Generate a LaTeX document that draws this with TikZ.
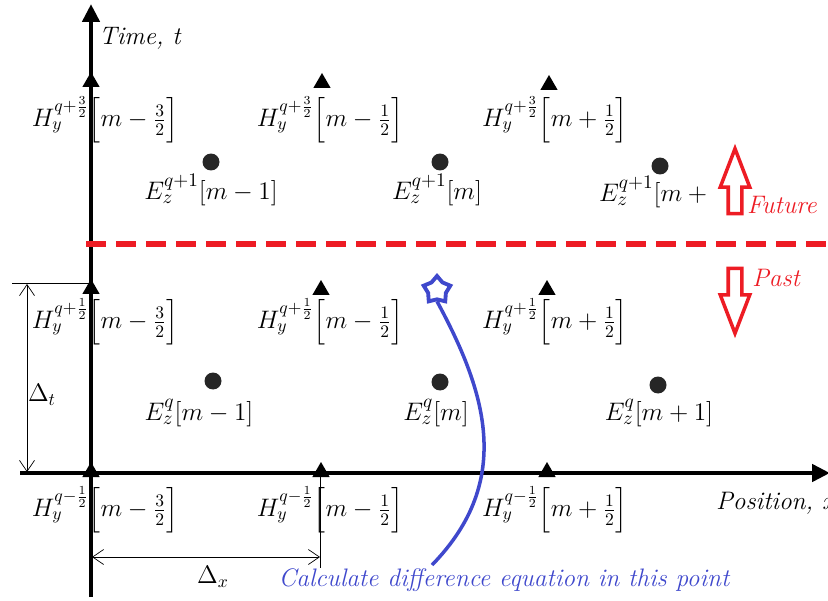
\documentclass[tikz,border=0pt]{standalone}
\usepackage{amsmath,amssymb}
\usepackage{xcolor}
\usetikzlibrary{positioning,arrows.meta,shapes.geometric,shapes.arrows}
\definecolor{PastRed}{RGB}{237,28,36}
\definecolor{CalcBlue}{RGB}{63,72,204}
\newcommand{\Hy}[2]{$H_y^{q#1}\Big[m#2\Big]$}
\newcommand{\Ez}[2]{$E_z^{#1}[m#2]$}
\tikzset{
  axis/.style={line width=2.6pt, -{Triangle[length=3.6mm, width=3.4mm]}},
  hmark/.style={regular polygon, regular polygon sides=3, fill=black, inner sep=0pt, minimum size=0.4cm},
  edot/.style={circle, fill=black!85, inner sep=0pt, minimum size=0.34cm},
  fieldlab/.style={font=\Large, inner sep=1pt},
  elab/.style={font=\fontsize{15.5}{18}\selectfont, inner sep=1pt},
  axlab/.style={font=\Large\itshape, inner sep=1pt},
  redlab/.style={font=\Large\itshape, text=PastRed, inner sep=1pt},
  sepline/.style={line width=3pt, PastRed, dash pattern=on 0.4cm off 0.2cm},
  hollow/.style={single arrow, draw=PastRed, fill=white, line width=2pt, inner sep=0.1cm,
    minimum height=1.3cm, single arrow head extend=0.16cm, single arrow tip angle=42},
  dimline/.style={thin},
  dimarr/.style={thin, {Straight Barb[length=2.2mm, width=3mm]}-{Straight Barb[length=2.2mm, width=3mm]}},
  calcline/.style={line width=2pt, CalcBlue},
  calctxt/.style={font=\Large\itshape, text=CalcBlue, inner sep=1pt},
}
\begin{document}
\begin{tikzpicture}[x=0.02cm, y=-0.02cm]
  \useasboundingbox (0,0) rectangle (828,601);
  \coordinate (t0) at (91,597);
  \coordinate (t1) at (91,4);
  \coordinate (x0) at (20,473);
  \coordinate (x1) at (830,473);
  \draw[axis] (t0) -- (t1);
  \draw[axis] (x0) -- (x1);
  \node[axlab, anchor=west] (tlab) at (97,38) {Time, t};
  \node[axlab, anchor=west] (xlab) at (714,503) {Position, x};

  \coordinate (sep0) at (86,244);
  \coordinate (sep1) at (828,244);
  \draw[sepline] (sep0) -- (sep1);

  \foreach \n/\x/\y in {b1/91/472, b2/321/472, b3/547/472, m1/91/289, m2/321/290, m3/547/290,
                        t1/91/82, t2/322/83, t3/549/85}
    \node[hmark] (H\n) at (\x,\y) {};
  \foreach \n/\x/\y in {m1/213/381, m2/440/382, m3/658/385, t1/211/162, t2/440/162, t3/660/166}
    \node[edot] (E\n) at (\x,\y) {};

  \node[fieldlab] (lHt1) at (105,120) {\Hy{+\frac{3}{2}}{-\frac{3}{2}}};
  \node[fieldlab] (lHt2) at (330,120) {\Hy{+\frac{3}{2}}{-\frac{1}{2}}};
  \node[fieldlab] (lHt3) at (555,120) {\Hy{+\frac{3}{2}}{+\frac{1}{2}}};
  \node[elab] (lEt1) at (211,190) {\Ez{q+1}{-1}};
  \node[elab] (lEt2) at (437,190) {\Ez{q+1}{}};
  \node[elab, anchor=west] (lEt3) at (597,192) {$E_z^{q+1}[m+{}$};
  \node[fieldlab] (lHm1) at (105,322) {\Hy{+\frac{1}{2}}{-\frac{3}{2}}};
  \node[fieldlab] (lHm2) at (330,322) {\Hy{+\frac{1}{2}}{-\frac{1}{2}}};
  \node[fieldlab] (lHm3) at (555,322) {\Hy{+\frac{1}{2}}{+\frac{1}{2}}};
  \node[elab] (lEm1) at (199,413) {\Ez{q}{-1}};
  \node[elab] (lEm2) at (436,413) {\Ez{q}{}};
  \node[elab] (lEm3) at (659,413) {\Ez{q}{+1}};
  \node[fieldlab] (lHb1) at (105,510) {\Hy{-\frac{1}{2}}{-\frac{3}{2}}};
  \node[fieldlab] (lHb2) at (330,510) {\Hy{-\frac{1}{2}}{-\frac{1}{2}}};
  \node[fieldlab] (lHb3) at (555,510) {\Hy{-\frac{1}{2}}{+\frac{1}{2}}};

  \node[hollow, rotate=90] (future) at (735,190) {};
  \node[hollow, rotate=-90] (past) at (735,292) {};
  \node[redlab, anchor=west] (futurelab) at (745,205) {Future};
  \node[redlab, anchor=west] (pastlab) at (750,278) {Past};

  \coordinate (dt0) at (12,283);
  \coordinate (dt1) at (91,283);
  \coordinate (dta) at (27,284);
  \coordinate (dtb) at (27,472);
  \draw[dimline] (dt0) -- (dt1);
  \draw[dimarr] (dta) -- (dtb);
  \node[fieldlab] (dtlab) at (42,395) {$\Delta_t$};
  \coordinate (dx0) at (320,475);
  \coordinate (dx1) at (320,568);
  \coordinate (dxa) at (92,557);
  \coordinate (dxb) at (320,557);
  \draw[dimline] (dx0) -- (dx1);
  \draw[dimarr] (dxa) -- (dxb);
  \node[fieldlab] (dxlab) at (213,577) {$\Delta_x$};

  \node[star, star points=5, draw=CalcBlue, line width=2.2pt, minimum size=0.56cm, inner sep=0pt] (star) at (437,290) {};
  \coordinate (calcend) at (432,565);
  \draw[calcline] (star.south) .. controls (485,390) and (515,480) .. (calcend);
  \node[calctxt] (calcnote) at (504,580) {Calculate difference equation in this point};
\end{tikzpicture}
\end{document}
